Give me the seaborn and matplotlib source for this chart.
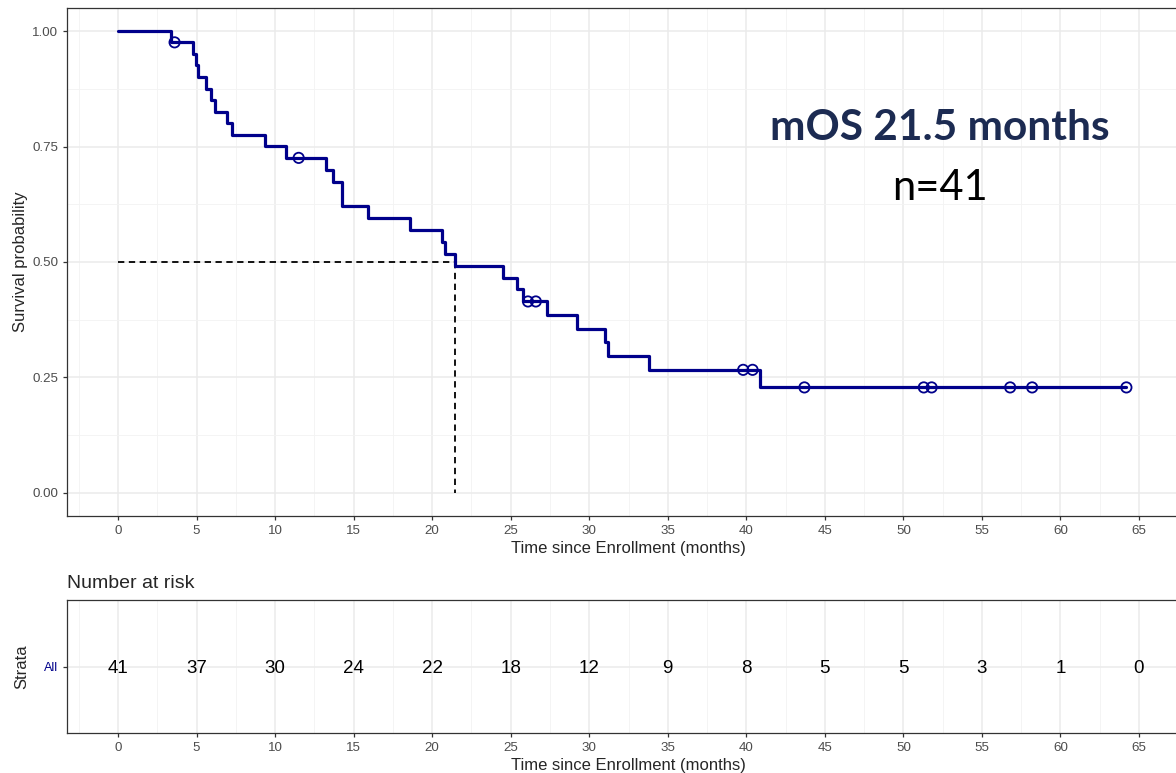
import numpy as np
import pandas as pd
import seaborn as sns
import matplotlib.pyplot as plt
from matplotlib.ticker import MultipleLocator

# death and censoring times (months since enrollment)
event_times = [3.4, 4.75, 4.97, 5.11, 5.6, 5.92, 6.17, 6.92, 7.24, 9.36,
               10.69, 13.24, 13.7, 14.24, 14.24, 15.93, 18.59, 20.6, 20.8, 21.45,
               24.5, 25.4, 25.8, 27.3, 29.2, 31.0, 31.2, 33.8, 40.9]
censor_times = [3.6, 11.5, 26.1, 26.6, 39.8, 40.4, 43.7, 51.3, 51.8, 56.8, 58.2, 64.2]

risk_times = [0, 5, 10, 15, 20, 25, 30, 35, 40, 45, 50, 55, 60, 65]
n_at_risk = [41, 37, 30, 24, 22, 18, 12, 9, 8, 5, 5, 3, 1, 0]
median_os = 21.45

curve_col = "#00008B"

# Kaplan-Meier estimate from the times
all_t = np.array(event_times + censor_times)
ev = np.array([1] * len(event_times) + [0] * len(censor_times))
km_t, km_s = [0.0], [1.0]
s = 1.0
for t in sorted(set(event_times)):
    n = (all_t >= t).sum()
    d = ((all_t == t) & (ev == 1)).sum()
    s *= 1 - d / n
    km_t.append(t)
    km_s.append(s)
km_t.append(max(censor_times))
km_s.append(s)
df_km = pd.DataFrame({"time": km_t, "surv": km_s})

cens_s = [km_s[np.searchsorted(km_t[:-1], c, side="right") - 1] for c in censor_times]
df_cens = pd.DataFrame({"time": censor_times, "surv": cens_s})

sns.set_theme(style="white")
plt.rcParams["font.family"] = ["Liberation Sans", "DejaVu Sans"]

fig = plt.figure(figsize=(11.76, 7.73), dpi=100)
ax = fig.add_axes([67 / 1176, 1 - 516 / 773, (1190 - 67) / 1176, 508 / 773])
ax_r = fig.add_axes([67 / 1176, 1 - 733 / 773, (1190 - 67) / 1176, 133 / 773])

xlim = (-3.25, 68.25)

def style_axes(a):
    a.set_xlim(*xlim)
    a.xaxis.set_major_locator(MultipleLocator(5))
    a.xaxis.set_minor_locator(MultipleLocator(2.5))
    a.grid(which="major", color="#EBEBEB", lw=1.1, zorder=0)
    a.grid(which="minor", color="#F3F3F3", lw=0.6, zorder=0)
    a.set_axisbelow(True)
    for sp in a.spines.values():
        sp.set_visible(True)
        sp.set_color("#333333")
        sp.set_linewidth(0.9)
    a.tick_params(which="major", direction="out", length=3, width=0.9,
                  color="#333333", labelcolor="#4D4D4D", labelsize=9.6, pad=3.2,
                  bottom=True, left=True)
    a.tick_params(which="minor", length=0)

# survival curve
sns.lineplot(data=df_km, x="time", y="surv", ax=ax, color=curve_col, lw=2.3,
             drawstyle="steps-post", estimator=None, sort=False, zorder=3)
sns.scatterplot(data=df_cens, x="time", y="surv", ax=ax, marker="o", s=55,
                facecolor="none", edgecolor=curve_col, linewidth=1.3, zorder=4)

# median lines
ax.plot([0, median_os], [0.5, 0.5], color="black", ls=(0, (3.5, 2.5)), lw=1.3, zorder=2)
ax.plot([median_os, median_os], [0.5, 0], color="black", ls=(0, (3.5, 2.5)), lw=1.3, zorder=2)

style_axes(ax)
ax.set_ylim(-0.05, 1.05)
ax.yaxis.set_major_locator(MultipleLocator(0.25))
ax.yaxis.set_minor_locator(MultipleLocator(0.125))
ax.set_yticklabels([f"{v:.2f}" for v in ax.get_yticks()])
ax.set_ylim(-0.05, 1.05)
ax.set_xlabel("Time since Enrollment (months)", fontsize=12, labelpad=3.5)
ax.set_ylabel("Survival probability", fontsize=12, labelpad=3)

ax.text(0.7774, 0.740, "mOS 21.5 months", transform=ax.transAxes, ha="center",
        va="baseline", fontsize=30.5, fontweight="bold", color="#1C2B52",
        family=["Lato", "DejaVu Sans"])
ax.text(0.7774, 0.622, "n=41", transform=ax.transAxes, ha="center",
        va="baseline", fontsize=30, color="black", family=["Lato", "DejaVu Sans"])

# number at risk table
df_risk = pd.DataFrame({"time": risk_times, "n": n_at_risk})
for t, n in zip(df_risk["time"], df_risk["n"]):
    ax_r.text(t, 0, str(n), ha="center", va="center_baseline", fontsize=13.5, color="black")
style_axes(ax_r)
ax_r.set_ylim(-1, 1)
ax_r.set_yticks([0])
ax_r.set_yticklabels(["All"], color=curve_col, fontsize=9)
ax_r.grid(which="major", axis="y", color="#EBEBEB", lw=1.1)
ax_r.set_xlabel("Time since Enrollment (months)", fontsize=12, labelpad=3.5)
ax_r.set_ylabel("Strata", fontsize=12, labelpad=11)
ax_r.set_title("Number at risk", loc="left", fontsize=14, pad=9)

fig.savefig("out.png", dpi=100)
